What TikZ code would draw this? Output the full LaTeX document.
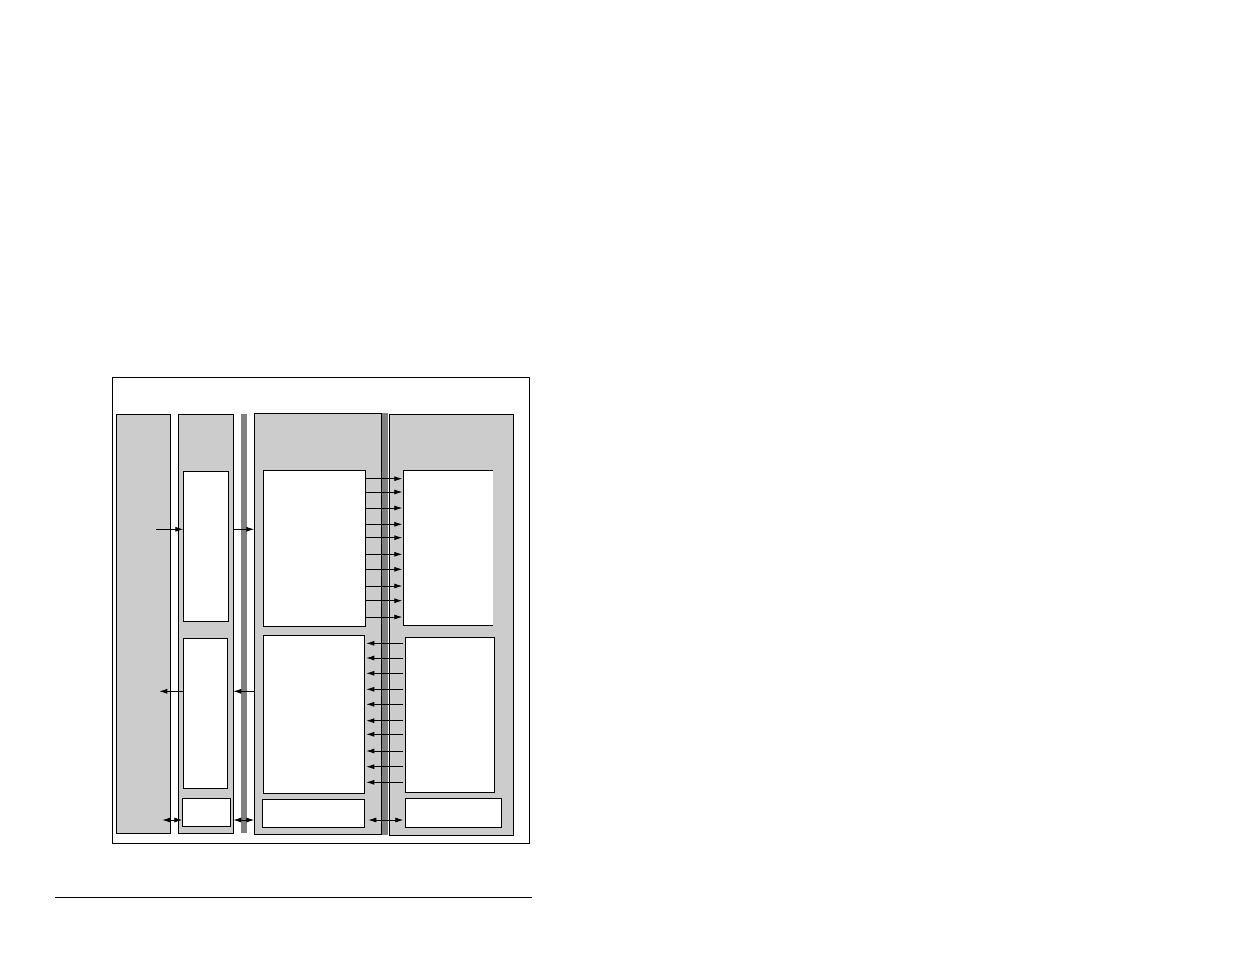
\documentclass[tikz,border=0pt]{standalone}
\usetikzlibrary{arrows.meta}
\definecolor{panel}{gray}{0.8}
\definecolor{bus}{gray}{0.5}

\begin{document}
\begin{tikzpicture}
  [x=1pt,y=-1pt,line width=.8pt,
   every node/.style={rectangle,draw,inner sep=0pt,outer sep=0pt,anchor=north west},
   col/.style={fill=panel},
   blk/.style={fill=white},
   busbar/.style={fill=bus,draw=none},
   sig/.style={-{Latex[length=8pt,width=5pt]}},
   twoway/.style={{Latex[length=8pt,width=5pt]}-{Latex[length=8pt,width=5pt]}}]
  \useasboundingbox (0,0) rectangle (1235,954);

  \node[line width=1pt,minimum width=417pt,minimum height=466pt] (frame) at (112.5,377) {};

  % columns
  \node[col,minimum width=54.4pt,minimum height=419pt] (c1) at (116.3,414.3) {};
  \node[col,minimum width=55pt,minimum height=419pt] (c2) at (178.3,414.3) {};
  \node[busbar,minimum width=6pt,minimum height=419pt] (bus1) at (241,414.3) {};
  \node[col,minimum width=127.4pt,minimum height=420.7pt] (c3) at (254.3,413.3) {};
  \node[busbar,minimum width=6.3pt,minimum height=421.7pt] (bus2) at (382,413.3) {};
  \node[col,minimum width=124pt,minimum height=420.7pt] (c4) at (389.3,414.3) {};

  % blocks
  \node[blk,minimum width=45.4pt,minimum height=150.7pt] (p1) at (183.3,471) {};
  \node[blk,minimum width=44.4pt,minimum height=150pt] (p2) at (183.3,638.3) {};
  \node[blk,minimum width=48.4pt,minimum height=28pt] (p3) at (182.3,798.3) {};
  \node[blk,minimum width=102pt,minimum height=156pt] (qa) at (263.3,470.3) {};
  \node[blk,minimum width=101pt,minimum height=158pt] (qb) at (263.3,635.3) {};
  \node[blk,minimum width=102pt,minimum height=28pt] (qc) at (262.3,799.3) {};
  \node[blk,draw=none,minimum width=89.4pt,minimum height=155pt] (rd) at (403.3,470.3) {};
  \draw (rd.north east) -- (rd.north west) -- (rd.south west) -- (rd.south east);
  \node[blk,minimum width=89pt,minimum height=154.7pt] (re) at (405.3,637.3) {};
  \node[blk,minimum width=96.4pt,minimum height=29pt] (rf) at (405.3,798.3) {};

  % free ends
  \coordinate (inA) at (156,529.3);
  \coordinate (outA) at (159.3,691.3);
  \coordinate (ioA) at (162.3,820);
  \coordinate (ruleL) at (55,897);
  \coordinate (ruleR) at (531.7,897);

  \draw[sig] (inA) -- (inA -| p1.west);
  \draw[sig] (inA -| c2.east) -- (inA -| c3.west);
  \draw[sig] (outA -| p2.west) -- (outA);
  \draw[sig] (outA -| c3.west) -- (outA -| c2.east);
  \draw[twoway] (ioA) -- (ioA -| p3.west);
  \draw[twoway] (ioA -| c2.east) -- (ioA -| c3.west);
  \draw[twoway] ([xshift=4pt]ioA -| qc.east) -- ([xshift=-2pt]ioA -| rf.west);

  \foreach \y in {478.7,492,508,524.3,537.7,554.3,569.3,586,600.7,617}
    \draw[sig] (qa.east |- 0,\y) -- ([xshift=-1pt]rd.west |- 0,\y);
  \foreach \y in {643.3,658,673.3,689.3,704.3,720.7,734.3,751,766.7,782.3}
    \draw[sig] ([xshift=-2pt]re.west |- 0,\y) -- ([xshift=2pt]qb.east |- 0,\y);

  \draw (ruleL) -- (ruleR);
\end{tikzpicture}
\end{document}
